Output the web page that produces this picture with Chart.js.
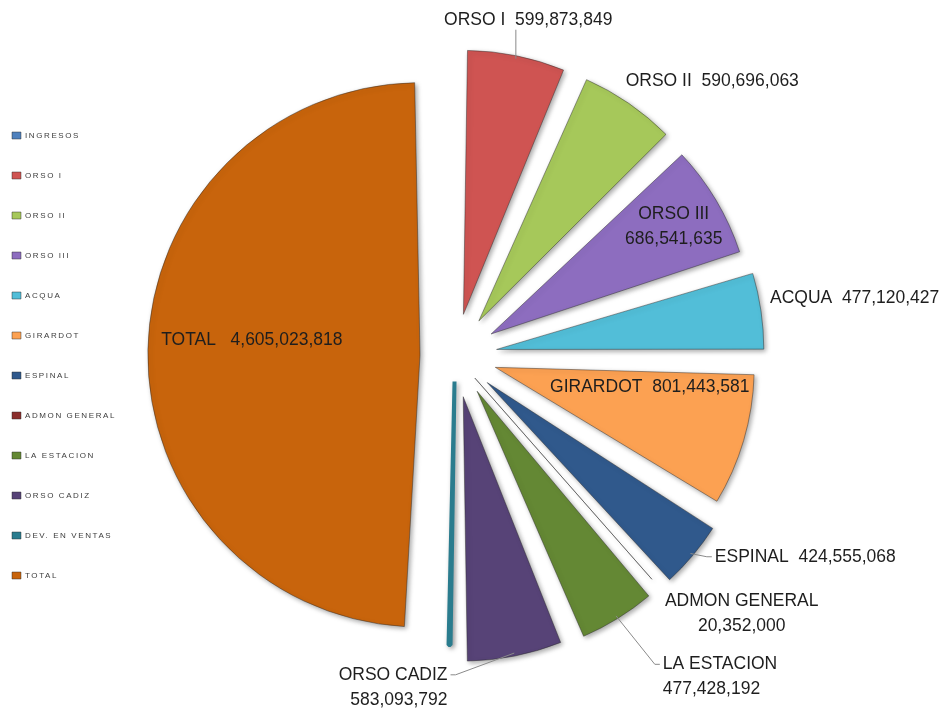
<!DOCTYPE html>
<html>
<head>
<meta charset="utf-8">
<script src="https://cdn.jsdelivr.net/npm/chart.js@4.4.1/dist/chart.umd.min.js"></script>
<style>
  html, body { margin: 0; padding: 0; background: #fff; }
  #wrap { width: 951px; height: 715px; position: relative; }
</style>
</head>
<body>
<div id="wrap"><canvas id="pie" width="951" height="715"></canvas></div>
<script>
// Ingresos por sede - pie explotado
const categories = ['INGRESOS', 'ORSO I', 'ORSO II', 'ORSO III', 'ACQUA', 'GIRARDOT', 'ESPINAL',
  'ADMON GENERAL', 'LA ESTACION', 'ORSO CADIZ', 'DEV. EN VENTAS', 'TOTAL'];
const ingresos = [0, 599873849, 590696063, 686541635, 477120427, 801443581, 424555068,
  20352000, 477428192, 583093792, -56080789, 4605023818];
const sliceColors = ['#4F81BD', '#CF5452', '#A6C85A', '#8D6DBF', '#52BED8', '#FCA152', '#30598C',
  '#8B2F2D', '#648834', '#574377', '#2A7C8E', '#C8640C'];
// explode distance per slice (chart.js moves an arc by offset/4 px)
const sliceOffsets = [168, 168, 168, 168, 168, 168, 168, 120, 168, 168, 104, 140];

// label placement: dAng = degrees from the slice middle, r = fraction of radius (inside) or px past the edge (outside)
const labelSpecs = {
  1:  { out: true,  dAng: 1.2,  r: 25, ha: 'center', va: 'bottom', line: 'up',  lines: 1 },
  2:  { out: true,  dAng: -2.7, r: 17, ha: 'left',   va: 'middle', line: false, lines: 1 },
  3:  { out: false, dAng: 0.2,  r: 0.81, ha: 'center', va: 'middle', lines: 2 },
  4:  { out: true,  dAng: -2.1, r: 11, ha: 'left',   va: 'middle', line: false, lines: 1 },
  5:  { out: false, dAng: -7.1, r: 0.60, ha: 'center', va: 'middle', lines: 1 },
  6:  { out: true,  dAng: -2.3, r: 18, ha: 'left',   va: 'middle', line: true,  lines: 1 },
  7:  { out: true,  dAng: -6.6, r: 88, ha: 'center', va: 'middle', line: false, lines: 2 },
  8:  { out: true,  dAng: -2.2, r: 63, ha: 'left',   va: 'first',  line: true,  lines: 2 },
  9:  { out: true,  dAng: 12.6, r: 13, ha: 'right',  va: 'first',  line: true,  lines: 2 },
  11: { out: false, dAng: 3.1,  r: 0.62, ha: 'center', va: 'middle', lines: 1, sep: '   ' }
};

const fmt = (v) => Math.abs(v).toLocaleString('en-US');
const edgeColor = 'rgba(40,40,40,0.45)';

const shadowPlugin = {
  id: 'sliceShadow',
  beforeLayout(chart) { chart.ctx.letterSpacing = '1.6px'; },
  beforeDraw(chart) { chart.ctx.letterSpacing = '1.6px'; },
  beforeDatasetDraw(chart) {
    const ctx = chart.ctx;
    ctx.save();
    ctx.shadowColor = 'rgba(0,0,0,0.35)';
    ctx.shadowBlur = 5;
    ctx.shadowOffsetX = 2;
    ctx.shadowOffsetY = 2;
  },
  afterDatasetDraw(chart) { chart.ctx.restore(); }
};

const labelPlugin = {
  id: 'sliceLabels',
  afterDatasetsDraw(chart) {
    const ctx = chart.ctx;
    const meta = chart.getDatasetMeta(0);
    ctx.save();
    ctx.letterSpacing = '0px';
    ctx.font = '17.5px "Liberation Sans", Arial, sans-serif';
    ctx.fillStyle = '#1e1e1e';
    ctx.strokeStyle = '#8a8a8a';
    ctx.lineWidth = 1;
    const lh = 25;
    meta.data.forEach((arc, i) => {
      const spec = labelSpecs[i];
      if (!spec) return;
      const off = (arc.options.offset || 0) / 4;
      const circ = arc.endAngle - arc.startAngle;
      // drawn radius of an offset arc grows by off * (1 - sin(circ))
      const drawnR = arc.outerRadius + off * (1 - Math.sin(Math.min(Math.PI, circ)));
      const mid = (arc.startAngle + arc.endAngle) / 2;
      const a = mid + spec.dAng * Math.PI / 180;
      const rr = spec.out ? drawnR + off + spec.r : off + drawnR * spec.r;
      const px = arc.x + Math.cos(a) * rr;
      const py = arc.y + Math.sin(a) * rr;
      const texts = spec.lines === 2
        ? [categories[i], fmt(ingresos[i])]
        : [categories[i] + (spec.sep || '  ') + fmt(ingresos[i])];

      if (spec.line) {
        const ex = arc.x + Math.cos(mid) * (drawnR + off - 3);
        const ey = arc.y + Math.sin(mid) * (drawnR + off - 3);
        ctx.beginPath();
        ctx.moveTo(ex, ey);
        if (spec.line === 'up') ctx.lineTo(ex, py - 3);
        else if (spec.ha === 'left') { ctx.lineTo(px - 8, py); ctx.lineTo(px - 3, py); }
        else { ctx.lineTo(px + 8, py); ctx.lineTo(px + 3, py); }
        ctx.stroke();
      }

      ctx.textAlign = spec.ha;
      ctx.textBaseline = 'middle';
      let y0;
      if (spec.va === 'bottom') y0 = py - lh / 2 - (texts.length - 1) * lh;
      else if (spec.va === 'first') y0 = py;
      else y0 = py - (texts.length - 1) * lh / 2;
      texts.forEach((t, k) => ctx.fillText(t, px, y0 + k * lh));
    });
    ctx.restore();
  }
};

new Chart(document.getElementById('pie'), {
  type: 'pie',
  data: {
    labels: categories,
    datasets: [{
      data: ingresos,
      backgroundColor: sliceColors,
      // the very thin slice gets a stroke in its own colour so it stays visible
      borderColor: categories.map((c, i) => c === 'DEV. EN VENTAS' ? sliceColors[i] : edgeColor),
      borderWidth: categories.map(c => c === 'DEV. EN VENTAS' ? 4 : 1),
      offset: sliceOffsets
    }]
  },
  options: {
    responsive: false,
    animation: false,
    layout: { padding: { left: -20, top: 31, bottom: 35, right: 167 } },
    plugins: {
      tooltip: { enabled: false },
      legend: {
        position: 'left',
        align: 'center',
        labels: {
          boxWidth: 9,
          boxHeight: 7,
          padding: 32,
          color: '#3c3c3c',
          font: { family: '"Liberation Sans", Arial, sans-serif', size: 8 },
          generateLabels(chart) {
            const items = Chart.overrides.doughnut.plugins.legend.labels.generateLabels(chart);
            items.forEach(it => { it.lineWidth = 1; it.strokeStyle = edgeColor; });
            return items;
          }
        }
      }
    }
  },
  plugins: [shadowPlugin, labelPlugin]
});
</script>
</body>
</html>
